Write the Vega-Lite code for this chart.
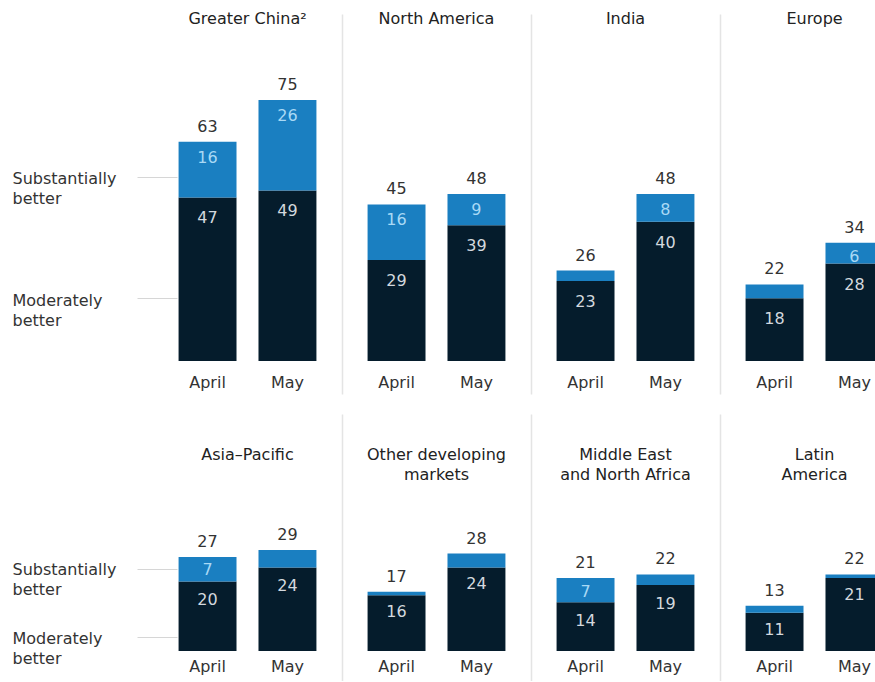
{
  "$schema": "https://vega.github.io/schema/vega-lite/v6.json",
  "padding": {"left": 12, "top": 11, "right": 0, "bottom": 0},
  "background": "#ffffff",
  "datasets": {
    "d": [
      {"region": "Greater China", "month": "April", "category": "Moderately better", "value": 47},
      {"region": "Greater China", "month": "April", "category": "Substantially better", "value": 16},
      {"region": "Greater China", "month": "May", "category": "Moderately better", "value": 49},
      {"region": "Greater China", "month": "May", "category": "Substantially better", "value": 26},
      {"region": "North America", "month": "April", "category": "Moderately better", "value": 29},
      {"region": "North America", "month": "April", "category": "Substantially better", "value": 16},
      {"region": "North America", "month": "May", "category": "Moderately better", "value": 39},
      {"region": "North America", "month": "May", "category": "Substantially better", "value": 9},
      {"region": "India", "month": "April", "category": "Moderately better", "value": 23},
      {"region": "India", "month": "April", "category": "Substantially better", "value": 3},
      {"region": "India", "month": "May", "category": "Moderately better", "value": 40},
      {"region": "India", "month": "May", "category": "Substantially better", "value": 8},
      {"region": "Europe", "month": "April", "category": "Moderately better", "value": 18},
      {"region": "Europe", "month": "April", "category": "Substantially better", "value": 4},
      {"region": "Europe", "month": "May", "category": "Moderately better", "value": 28},
      {"region": "Europe", "month": "May", "category": "Substantially better", "value": 6},
      {"region": "Asia-Pacific", "month": "April", "category": "Moderately better", "value": 20},
      {"region": "Asia-Pacific", "month": "April", "category": "Substantially better", "value": 7},
      {"region": "Asia-Pacific", "month": "May", "category": "Moderately better", "value": 24},
      {"region": "Asia-Pacific", "month": "May", "category": "Substantially better", "value": 5},
      {"region": "Other developing markets", "month": "April", "category": "Moderately better", "value": 16},
      {"region": "Other developing markets", "month": "April", "category": "Substantially better", "value": 1},
      {"region": "Other developing markets", "month": "May", "category": "Moderately better", "value": 24},
      {"region": "Other developing markets", "month": "May", "category": "Substantially better", "value": 4},
      {"region": "Middle East and North Africa", "month": "April", "category": "Moderately better", "value": 14},
      {"region": "Middle East and North Africa", "month": "April", "category": "Substantially better", "value": 7},
      {"region": "Middle East and North Africa", "month": "May", "category": "Moderately better", "value": 19},
      {"region": "Middle East and North Africa", "month": "May", "category": "Substantially better", "value": 3},
      {"region": "Latin America", "month": "April", "category": "Moderately better", "value": 11},
      {"region": "Latin America", "month": "April", "category": "Substantially better", "value": 2},
      {"region": "Latin America", "month": "May", "category": "Moderately better", "value": 21},
      {"region": "Latin America", "month": "May", "category": "Substantially better", "value": 1}
    ]
  },
  "config": {
    "view": {"stroke": null},
    "font": "DejaVu Sans",
    "title": {"font": "DejaVu Sans", "fontSize": 16, "fontWeight": "normal", "color": "#222222", "anchor": "middle", "baseline": "top", "lineHeight": 20, "frame": "group"},
    "axisX": {"domain": false, "ticks": false, "tickSize": 0, "labelPadding": 0, "labelBaseline": "middle", "labelAngle": 0, "title": null, "grid": false, "labelFont": "DejaVu Sans", "labelFontSize": 16, "labelColor": "#333333"},
    "axisY": {"domain": true, "domainColor": "#e4e4e4", "domainWidth": 1.5, "ticks": false, "labels": false, "grid": false, "title": null},
    "concat": {"spacing": 0}
  },
  "spacing": 20,
  "vconcat": [
    {
      "spacing": 0,
      "hconcat": [
        {
          "width": 189, "height": 380,
          "data": {"name": "d"},
          "title": {"text": "Greater China²", "offset": -13},
          "transform": [{"filter": "datum.region === 'Greater China'"}],
          "encoding": {"x": {"field": "month", "type": "nominal", "sort": ["April", "May"], "scale": {"paddingInner": 0.275, "paddingOuter": 0.32}, "axis": {"offset": -12}}},
          "layer": [
            {"mark": {"type": "bar"}, "encoding": {"y": {"field": "value", "type": "quantitative", "stack": "zero", "scale": {"domain": [-9.48, 99.71], "nice": false, "zero": false}, "axis": {"domain": false, "ticks": true, "labels": true, "values": [53, 18], "tickSize": 40, "tickColor": "#d6d6d6", "tickWidth": 1, "offset": -24, "labelAlign": "left", "labelPadding": 125, "labelBaseline": "top", "labelOffset": -6, "labelLineHeight": 20, "labelFont": "DejaVu Sans", "labelFontSize": 16, "labelColor": "#333333", "labelExpr": "datum.value > 30 ? ['Substantially', 'better'] : ['Moderately', 'better']"}}, "order": {"field": "category", "type": "nominal", "sort": "ascending"}, "color": {"field": "category", "type": "nominal", "scale": {"domain": ["Moderately better", "Substantially better"], "range": ["#051c2c", "#1a7fc1"]}, "legend": null}}},
            {"transform": [{"filter": "datum.category === 'Moderately better'"}], "mark": {"type": "text", "baseline": "middle", "dy": 21, "fontSize": 16, "color": "#d3d8de"}, "encoding": {"y": {"field": "value", "type": "quantitative"}, "text": {"field": "value", "type": "quantitative"}}},
            {"transform": [{"stack": "value", "groupby": ["month"], "sort": [{"field": "category", "order": "ascending"}], "as": ["v0", "v1"]}, {"filter": "datum.category === 'Substantially better' && datum.value >= 6"}], "mark": {"type": "text", "baseline": "middle", "dy": 16, "fontSize": 16, "color": "#a9d9f5"}, "encoding": {"y": {"field": "v1", "type": "quantitative"}, "text": {"field": "value", "type": "quantitative"}}},
            {"mark": {"type": "text", "baseline": "middle", "dy": -15, "fontSize": 16, "color": "#333333"}, "encoding": {"y": {"aggregate": "sum", "field": "value", "type": "quantitative"}, "text": {"aggregate": "sum", "field": "value", "type": "quantitative"}}}
          ]
        },
        {
          "width": 189, "height": 380,
          "data": {"name": "d"},
          "title": {"text": "North America", "offset": -13},
          "transform": [{"filter": "datum.region === 'North America'"}],
          "encoding": {"x": {"field": "month", "type": "nominal", "sort": ["April", "May"], "scale": {"paddingInner": 0.275, "paddingOuter": 0.32}, "axis": {"offset": -12}}},
          "layer": [
            {"mark": {"type": "bar"}, "encoding": {"y": {"field": "value", "type": "quantitative", "stack": "zero", "scale": {"domain": [-9.48, 99.71], "nice": false, "zero": false}}, "order": {"field": "category", "type": "nominal", "sort": "ascending"}, "color": {"field": "category", "type": "nominal", "scale": {"domain": ["Moderately better", "Substantially better"], "range": ["#051c2c", "#1a7fc1"]}, "legend": null}}},
            {"transform": [{"filter": "datum.category === 'Moderately better'"}], "mark": {"type": "text", "baseline": "middle", "dy": 21, "fontSize": 16, "color": "#d3d8de"}, "encoding": {"y": {"field": "value", "type": "quantitative"}, "text": {"field": "value", "type": "quantitative"}}},
            {"transform": [{"stack": "value", "groupby": ["month"], "sort": [{"field": "category", "order": "ascending"}], "as": ["v0", "v1"]}, {"filter": "datum.category === 'Substantially better' && datum.value >= 6"}], "mark": {"type": "text", "baseline": "middle", "dy": 16, "fontSize": 16, "color": "#a9d9f5"}, "encoding": {"y": {"field": "v1", "type": "quantitative"}, "text": {"field": "value", "type": "quantitative"}}},
            {"mark": {"type": "text", "baseline": "middle", "dy": -15, "fontSize": 16, "color": "#333333"}, "encoding": {"y": {"aggregate": "sum", "field": "value", "type": "quantitative"}, "text": {"aggregate": "sum", "field": "value", "type": "quantitative"}}}
          ]
        },
        {
          "width": 189, "height": 380,
          "data": {"name": "d"},
          "title": {"text": "India", "offset": -13},
          "transform": [{"filter": "datum.region === 'India'"}],
          "encoding": {"x": {"field": "month", "type": "nominal", "sort": ["April", "May"], "scale": {"paddingInner": 0.275, "paddingOuter": 0.32}, "axis": {"offset": -12}}},
          "layer": [
            {"mark": {"type": "bar"}, "encoding": {"y": {"field": "value", "type": "quantitative", "stack": "zero", "scale": {"domain": [-9.48, 99.71], "nice": false, "zero": false}}, "order": {"field": "category", "type": "nominal", "sort": "ascending"}, "color": {"field": "category", "type": "nominal", "scale": {"domain": ["Moderately better", "Substantially better"], "range": ["#051c2c", "#1a7fc1"]}, "legend": null}}},
            {"transform": [{"filter": "datum.category === 'Moderately better'"}], "mark": {"type": "text", "baseline": "middle", "dy": 21, "fontSize": 16, "color": "#d3d8de"}, "encoding": {"y": {"field": "value", "type": "quantitative"}, "text": {"field": "value", "type": "quantitative"}}},
            {"transform": [{"stack": "value", "groupby": ["month"], "sort": [{"field": "category", "order": "ascending"}], "as": ["v0", "v1"]}, {"filter": "datum.category === 'Substantially better' && datum.value >= 6"}], "mark": {"type": "text", "baseline": "middle", "dy": 16, "fontSize": 16, "color": "#a9d9f5"}, "encoding": {"y": {"field": "v1", "type": "quantitative"}, "text": {"field": "value", "type": "quantitative"}}},
            {"mark": {"type": "text", "baseline": "middle", "dy": -15, "fontSize": 16, "color": "#333333"}, "encoding": {"y": {"aggregate": "sum", "field": "value", "type": "quantitative"}, "text": {"aggregate": "sum", "field": "value", "type": "quantitative"}}}
          ]
        },
        {
          "width": 189, "height": 380,
          "data": {"name": "d"},
          "title": {"text": "Europe", "offset": -13},
          "transform": [{"filter": "datum.region === 'Europe'"}],
          "encoding": {"x": {"field": "month", "type": "nominal", "sort": ["April", "May"], "scale": {"paddingInner": 0.275, "paddingOuter": 0.32}, "axis": {"offset": -12}}},
          "layer": [
            {"mark": {"type": "bar"}, "encoding": {"y": {"field": "value", "type": "quantitative", "stack": "zero", "scale": {"domain": [-9.48, 99.71], "nice": false, "zero": false}}, "order": {"field": "category", "type": "nominal", "sort": "ascending"}, "color": {"field": "category", "type": "nominal", "scale": {"domain": ["Moderately better", "Substantially better"], "range": ["#051c2c", "#1a7fc1"]}, "legend": null}}},
            {"transform": [{"filter": "datum.category === 'Moderately better'"}], "mark": {"type": "text", "baseline": "middle", "dy": 21, "fontSize": 16, "color": "#d3d8de"}, "encoding": {"y": {"field": "value", "type": "quantitative"}, "text": {"field": "value", "type": "quantitative"}}},
            {"transform": [{"stack": "value", "groupby": ["month"], "sort": [{"field": "category", "order": "ascending"}], "as": ["v0", "v1"]}, {"filter": "datum.category === 'Substantially better' && datum.value >= 6"}], "mark": {"type": "text", "baseline": "middle", "dy": 14, "fontSize": 16, "color": "#a9d9f5"}, "encoding": {"y": {"field": "v1", "type": "quantitative"}, "text": {"field": "value", "type": "quantitative"}}},
            {"mark": {"type": "text", "baseline": "middle", "dy": -15, "fontSize": 16, "color": "#333333"}, "encoding": {"y": {"aggregate": "sum", "field": "value", "type": "quantitative"}, "text": {"aggregate": "sum", "field": "value", "type": "quantitative"}}}
          ]
        }
      ]
    },
    {
      "spacing": 0,
      "hconcat": [
        {
          "width": 189, "height": 267,
          "data": {"name": "d"},
          "title": {"text": ["Asia–Pacific", ""], "offset": -69},
          "transform": [{"filter": "datum.region === 'Asia-Pacific'"}],
          "encoding": {"x": {"field": "month", "type": "nominal", "sort": ["April", "May"], "scale": {"paddingInner": 0.275, "paddingOuter": 0.32}, "axis": {"offset": -15}}},
          "layer": [
            {"mark": {"type": "bar"}, "encoding": {"y": {"field": "value", "type": "quantitative", "stack": "zero", "scale": {"domain": [-8.62, 68.1], "nice": false, "zero": false}, "axis": {"domain": false, "ticks": true, "labels": true, "values": [23.6, 4], "tickSize": 40, "tickColor": "#d6d6d6", "tickWidth": 1, "offset": -24, "labelAlign": "left", "labelPadding": 125, "labelBaseline": "top", "labelOffset": -7, "labelLineHeight": 20, "labelFont": "DejaVu Sans", "labelFontSize": 16, "labelColor": "#333333", "labelExpr": "datum.value > 10 ? ['Substantially', 'better'] : ['Moderately', 'better']"}}, "order": {"field": "category", "type": "nominal", "sort": "ascending"}, "color": {"field": "category", "type": "nominal", "scale": {"domain": ["Moderately better", "Substantially better"], "range": ["#051c2c", "#1a7fc1"]}, "legend": null}}},
            {"transform": [{"filter": "datum.category === 'Moderately better'"}], "mark": {"type": "text", "baseline": "middle", "dy": 19, "fontSize": 16, "color": "#d3d8de"}, "encoding": {"y": {"field": "value", "type": "quantitative"}, "text": {"field": "value", "type": "quantitative"}}},
            {"transform": [{"stack": "value", "groupby": ["month"], "sort": [{"field": "category", "order": "ascending"}], "as": ["v0", "v1"]}, {"filter": "datum.category === 'Substantially better' && datum.value >= 6"}], "mark": {"type": "text", "baseline": "middle", "dy": 13, "fontSize": 16, "color": "#a9d9f5"}, "encoding": {"y": {"field": "v1", "type": "quantitative"}, "text": {"field": "value", "type": "quantitative"}}},
            {"mark": {"type": "text", "baseline": "middle", "dy": -15, "fontSize": 16, "color": "#333333"}, "encoding": {"y": {"aggregate": "sum", "field": "value", "type": "quantitative"}, "text": {"aggregate": "sum", "field": "value", "type": "quantitative"}}}
          ]
        },
        {
          "width": 189, "height": 267,
          "data": {"name": "d"},
          "title": {"text": ["Other developing", "markets"], "offset": -69},
          "transform": [{"filter": "datum.region === 'Other developing markets'"}],
          "encoding": {"x": {"field": "month", "type": "nominal", "sort": ["April", "May"], "scale": {"paddingInner": 0.275, "paddingOuter": 0.32}, "axis": {"offset": -15}}},
          "layer": [
            {"mark": {"type": "bar"}, "encoding": {"y": {"field": "value", "type": "quantitative", "stack": "zero", "scale": {"domain": [-8.62, 68.1], "nice": false, "zero": false}}, "order": {"field": "category", "type": "nominal", "sort": "ascending"}, "color": {"field": "category", "type": "nominal", "scale": {"domain": ["Moderately better", "Substantially better"], "range": ["#051c2c", "#1a7fc1"]}, "legend": null}}},
            {"transform": [{"filter": "datum.category === 'Moderately better'"}], "mark": {"type": "text", "baseline": "middle", "dy": 17, "fontSize": 16, "color": "#d3d8de"}, "encoding": {"y": {"field": "value", "type": "quantitative"}, "text": {"field": "value", "type": "quantitative"}}},
            {"mark": {"type": "text", "baseline": "middle", "dy": -15, "fontSize": 16, "color": "#333333"}, "encoding": {"y": {"aggregate": "sum", "field": "value", "type": "quantitative"}, "text": {"aggregate": "sum", "field": "value", "type": "quantitative"}}}
          ]
        },
        {
          "width": 189, "height": 267,
          "data": {"name": "d"},
          "title": {"text": ["Middle East", "and North Africa"], "offset": -69},
          "transform": [{"filter": "datum.region === 'Middle East and North Africa'"}],
          "encoding": {"x": {"field": "month", "type": "nominal", "sort": ["April", "May"], "scale": {"paddingInner": 0.275, "paddingOuter": 0.32}, "axis": {"offset": -15}}},
          "layer": [
            {"mark": {"type": "bar"}, "encoding": {"y": {"field": "value", "type": "quantitative", "stack": "zero", "scale": {"domain": [-8.62, 68.1], "nice": false, "zero": false}}, "order": {"field": "category", "type": "nominal", "sort": "ascending"}, "color": {"field": "category", "type": "nominal", "scale": {"domain": ["Moderately better", "Substantially better"], "range": ["#051c2c", "#1a7fc1"]}, "legend": null}}},
            {"transform": [{"filter": "datum.category === 'Moderately better'"}], "mark": {"type": "text", "baseline": "middle", "dy": 19, "fontSize": 16, "color": "#d3d8de"}, "encoding": {"y": {"field": "value", "type": "quantitative"}, "text": {"field": "value", "type": "quantitative"}}},
            {"transform": [{"stack": "value", "groupby": ["month"], "sort": [{"field": "category", "order": "ascending"}], "as": ["v0", "v1"]}, {"filter": "datum.category === 'Substantially better' && datum.value >= 6"}], "mark": {"type": "text", "baseline": "middle", "dy": 14, "fontSize": 16, "color": "#a9d9f5"}, "encoding": {"y": {"field": "v1", "type": "quantitative"}, "text": {"field": "value", "type": "quantitative"}}},
            {"mark": {"type": "text", "baseline": "middle", "dy": -15, "fontSize": 16, "color": "#333333"}, "encoding": {"y": {"aggregate": "sum", "field": "value", "type": "quantitative"}, "text": {"aggregate": "sum", "field": "value", "type": "quantitative"}}}
          ]
        },
        {
          "width": 189, "height": 267,
          "data": {"name": "d"},
          "title": {"text": ["Latin", "America"], "offset": -69},
          "transform": [{"filter": "datum.region === 'Latin America'"}],
          "encoding": {"x": {"field": "month", "type": "nominal", "sort": ["April", "May"], "scale": {"paddingInner": 0.275, "paddingOuter": 0.32}, "axis": {"offset": -15}}},
          "layer": [
            {"mark": {"type": "bar"}, "encoding": {"y": {"field": "value", "type": "quantitative", "stack": "zero", "scale": {"domain": [-8.62, 68.1], "nice": false, "zero": false}}, "order": {"field": "category", "type": "nominal", "sort": "ascending"}, "color": {"field": "category", "type": "nominal", "scale": {"domain": ["Moderately better", "Substantially better"], "range": ["#051c2c", "#1a7fc1"]}, "legend": null}}},
            {"transform": [{"filter": "datum.category === 'Moderately better'"}], "mark": {"type": "text", "baseline": "middle", "dy": 17, "fontSize": 16, "color": "#d3d8de"}, "encoding": {"y": {"field": "value", "type": "quantitative"}, "text": {"field": "value", "type": "quantitative"}}},
            {"mark": {"type": "text", "baseline": "middle", "dy": -15, "fontSize": 16, "color": "#333333"}, "encoding": {"y": {"aggregate": "sum", "field": "value", "type": "quantitative"}, "text": {"aggregate": "sum", "field": "value", "type": "quantitative"}}}
          ]
        }
      ]
    }
  ]
}
